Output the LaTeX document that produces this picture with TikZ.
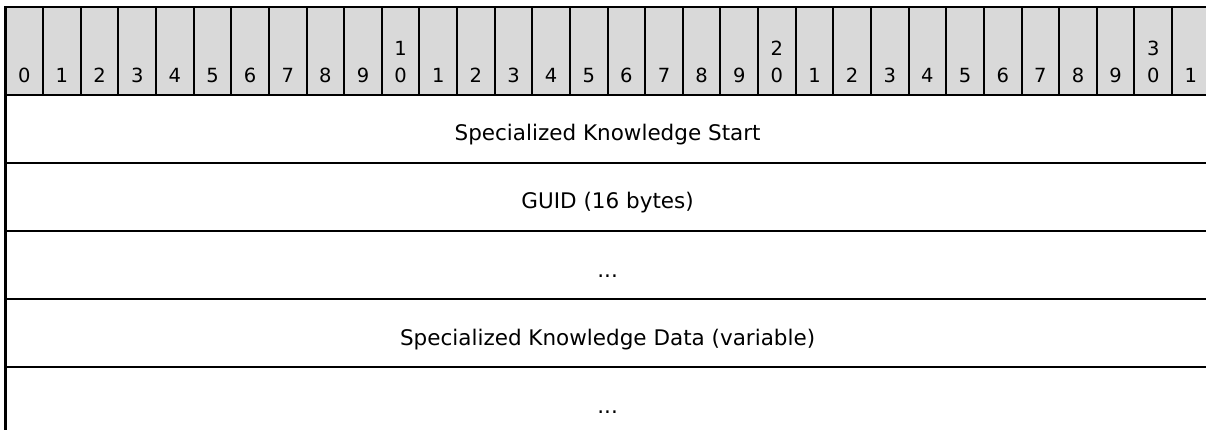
\documentclass[tikz,border=0pt]{standalone}
\usepackage{fontspec}
\setmainfont{DejaVu Sans}
\definecolor{headgray}{RGB}{217,217,217}
\tikzset{
  hcell/.style={draw=black, fill=headgray, line width=2pt, minimum width=37.63pt, minimum height=88pt, inner sep=0pt, outer sep=0pt},
  hnum/.style={anchor=base, inner sep=0pt, font=\fontsize{19.5}{23}\selectfont},
  rowtext/.style={anchor=base, inner sep=0pt, font=\fontsize{21.5}{26}\selectfont},
  rule/.style={line width=2.4pt, line cap=rect},
}
\begin{document}
\begin{tikzpicture}[x=1pt,y=-1pt]
\useasboundingbox (0,0) rectangle (1206,430);
\clip (0,0) rectangle (1206,430);
% header cells
\foreach \k in {0,...,31}{
  \pgfmathsetmacro{\cx}{5.5+37.63*(\k+0.5)}
  \node[hcell] (h\k) at (\cx,51) {};
  \ifnum\k<10
    \node[hnum] (d\k) at (\cx,83) {\k};
  \else
    \pgfmathtruncatemacro{\u}{mod(\k,10)}
    \pgfmathtruncatemacro{\t}{\k/10}
    \node[hnum] (d\k) at (\cx,83) {\u};
    \ifnum\u=0
      \node[hnum] (t\k) at (\cx,56) {\t};
    \fi
  \fi
}
% coordinates for rules
\coordinate (tl) at (5.5,7);
\coordinate (tr) at (1212,7);
\coordinate (bl) at (5.5,440);
\foreach \i/\y in {0/95,1/163,2/231,3/299,4/367}{
  \coordinate (L\i) at (5.5,\y);
  \coordinate (R\i) at (1212,\y);
}
\draw[rule] (tl) -- (tr);
\draw[rule] (tl) -- (bl);
\foreach \i in {0,...,4}{ \draw[rule] (L\i) -- (R\i); }
% row labels
\node[rowtext] (r1) at (607.6,141) {Specialized Knowledge Start};
\node[rowtext] (r2) at (607.6,209) {GUID (16 bytes)};
\node[rowtext] (r3) at (607.6,277) {...};
\node[rowtext] (r4) at (607.6,345) {Specialized Knowledge Data (variable)};
\node[rowtext] (r5) at (607.6,413) {...};
\end{tikzpicture}
\end{document}
